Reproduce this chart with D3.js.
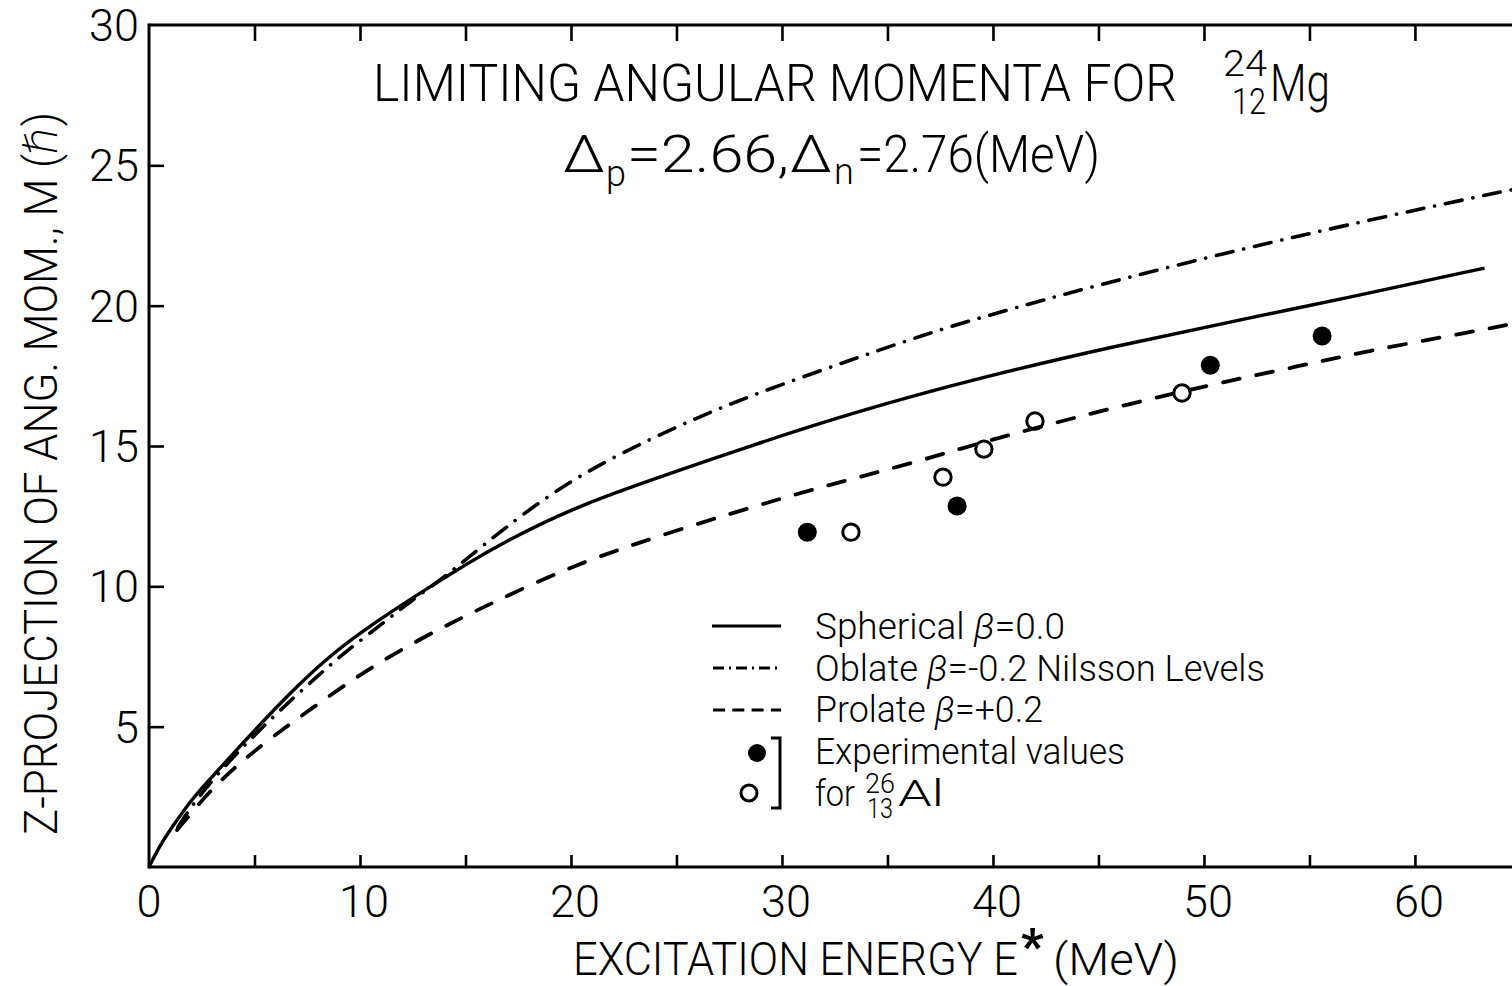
<!DOCTYPE html>
<html>
<head>
<meta charset="utf-8">
<script src="https://cdn.jsdelivr.net/npm/d3@7"></script>
<style>
  html, body { margin: 0; padding: 0; background: #fff; }
  svg text { font-family: Roboto, "DejaVu Sans", sans-serif; font-weight: 300; fill: #000; }
</style>
</head>
<body>
<svg id="chart" width="1512" height="986"></svg>
<script>
// ---------- data ----------
const xTickLabels = [0, 10, 20, 30, 40, 50, 60];
const yTickLabels = [5, 10, 15, 20, 25, 30];
const minorTicks = [5, 10, 15, 20, 25, 30, 35, 40, 45, 50, 55, 60];

const sphericalE = [0, 0.5, 1.09, 2.09, 3.2, 4.45, 5.59, 7.16, 8.72, 10.33, 11.9, 13.46, 15.07, 16.63, 20.2, 25, 28.48, 33.41, 39.29, 45.78, 52.09, 56.59, 63.3];
const sphericalM = [0, 0.75, 1.42, 2.49, 3.38, 4.42, 5.34, 6.55, 7.62, 8.51, 9.3, 10.05, 10.8, 11.5, 12.85, 14.1, 15.0, 16.2, 17.42, 18.56, 19.55, 20.25, 21.34];

const oblateE = [1.37, 1.94, 3.2, 4.63, 6.07, 7.77, 9.29, 11.1, 12.37, 13.8, 15.07, 16.63, 20.2, 25, 28.48, 33.4, 37.5, 41.9, 45.07, 50.85, 56.6, 63.7, 64.6];
const oblateM = [1.42, 2.1, 3.28, 4.42, 5.49, 6.66, 7.66, 8.69, 9.45, 10.22, 10.98, 11.95, 13.95, 15.7, 16.8, 18.1, 19.17, 20.1, 20.75, 21.85, 22.85, 24.0, 24.13];

const prolateE = [1.33, 2.9, 4.5, 6.5, 8, 9.5, 11, 12.8, 14.6, 16.3, 20.2, 25, 30.14, 33.1, 36.2, 38.44, 40.8, 45.07, 50.4, 54.55, 57.5, 62.9, 64.6];
const prolateM = [1.32, 2.74, 3.85, 5.0, 5.8, 6.6, 7.32, 8.1, 8.8, 9.42, 10.8, 12.0, 13.18, 13.78, 14.4, 14.9, 15.4, 16.25, 17.2, 17.85, 18.35, 19.1, 19.35];

const filledE = [31.2, 38.3, 50.3, 55.6];
const filledM = [11.93, 12.86, 17.88, 18.92];
const openE = [33.27, 37.63, 39.57, 41.99, 48.96];
const openM = [11.93, 13.89, 14.89, 15.89, 16.89];

// ---------- layout ----------
const svg = d3.select("#chart");
const x = d3.scaleLinear().domain([0, 64.6]).range([149, 1512]);
const y = d3.scaleLinear().domain([0, 30]).range([867, 25]);

const zip = (a, b) => a.map((v, i) => [v, b[i]]);
const line = d3.line().x(d => x(d[0])).y(d => y(d[1])).curve(d3.curveBasis);

// ---------- axes (inward ticks) ----------
const axisStyle = g => {
  g.selectAll(".domain").remove();
  g.selectAll(".tick line").attr("stroke", "#000").attr("stroke-width", 2.6);
  g.selectAll(".tick text").remove();
};
svg.append("g").attr("transform", `translate(0,${y(0)})`)
  .call(d3.axisBottom(x).tickValues(minorTicks).tickSize(-12)).call(axisStyle);
svg.append("g").attr("transform", `translate(0,${y(30)})`)
  .call(d3.axisTop(x).tickValues(minorTicks).tickSize(-16)).call(axisStyle);
svg.append("g").attr("transform", `translate(${x(0)},0)`)
  .call(d3.axisLeft(y).tickValues([5, 10, 15, 20, 25]).tickSize(-15)).call(axisStyle);

// frame lines
svg.append("line").attr("x1", x(0)).attr("x2", 1512).attr("y1", y(0)).attr("y2", y(0)).attr("stroke", "#000").attr("stroke-width", 3);
svg.append("line").attr("x1", x(0)).attr("x2", 1512).attr("y1", y(30)).attr("y2", y(30)).attr("stroke", "#000").attr("stroke-width", 3);
svg.append("line").attr("x1", x(0)).attr("x2", x(0)).attr("y1", y(30) - 1.5).attr("y2", y(0) + 1.5).attr("stroke", "#000").attr("stroke-width", 3);

// tick labels
svg.append("g").selectAll("text").data(xTickLabels).join("text")
  .attr("x", d => x(d) + (d === 0 ? 0 : 4)).attr("y", 917)
  .attr("text-anchor", "middle").attr("font-size", 45)
  .text(d => d);
svg.append("g").selectAll("text").data(yTickLabels).join("text")
  .attr("x", 139).attr("y", d => y(d) + 16)
  .attr("text-anchor", "end").attr("font-size", 45)
  .text(d => d);

// axis titles
svg.append("text").attr("x", 573).attr("y", 975).attr("font-size", 47)
  .attr("textLength", 445).attr("lengthAdjust", "spacingAndGlyphs")
  .text("EXCITATION ENERGY E");
svg.append("text").attr("x", 1021).attr("y", 964).attr("font-size", 50)
  .style("font-weight", 700).text("*");
svg.append("text").attr("x", 1053).attr("y", 975).attr("font-size", 45)
  .attr("textLength", 126).attr("lengthAdjust", "spacingAndGlyphs")
  .text("(MeV)");

svg.append("text").attr("transform", "translate(57,835) rotate(-90)").attr("font-size", 46)
  .attr("textLength", 723).attr("lengthAdjust", "spacingAndGlyphs")
  .text("Z-PROJECTION OF ANG. MOM., M (\u210F)");

// chart title
svg.append("text").attr("x", 373).attr("y", 101).attr("font-size", 51)
  .attr("textLength", 804).attr("lengthAdjust", "spacingAndGlyphs")
  .text("LIMITING ANGULAR MOMENTA FOR");
svg.append("text").attr("x", 1223).attr("y", 76).attr("font-size", 36)
  .attr("textLength", 44).attr("lengthAdjust", "spacingAndGlyphs").text("24");
svg.append("text").attr("x", 1232).attr("y", 114).attr("font-size", 36)
  .attr("textLength", 34).attr("lengthAdjust", "spacingAndGlyphs").text("12");
svg.append("text").attr("x", 1270).attr("y", 101).attr("font-size", 51)
  .attr("textLength", 60).attr("lengthAdjust", "spacingAndGlyphs").text("Mg");

svg.append("text").attr("x", 563).attr("y", 172).attr("font-size", 52)
  .attr("textLength", 42).attr("lengthAdjust", "spacingAndGlyphs").text("\u0394");
svg.append("text").attr("x", 606).attr("y", 186).attr("font-size", 36).text("p");
svg.append("text").attr("x", 627).attr("y", 172).attr("font-size", 52)
  .attr("textLength", 162).attr("lengthAdjust", "spacingAndGlyphs").text("=2.66,");
svg.append("text").attr("x", 790).attr("y", 172).attr("font-size", 52)
  .attr("textLength", 42).attr("lengthAdjust", "spacingAndGlyphs").text("\u0394");
svg.append("text").attr("x", 834).attr("y", 184).attr("font-size", 36).text("n");
svg.append("text").attr("x", 857).attr("y", 172).attr("font-size", 52)
  .attr("textLength", 243).attr("lengthAdjust", "spacingAndGlyphs").text("=2.76(MeV)");

// ---------- curves ----------
const plot = svg.append("g");
plot.append("path").datum(zip(sphericalE, sphericalM)).attr("d", line)
  .attr("fill", "none").attr("stroke", "#000").attr("stroke-width", 3.4);
plot.append("path").datum(zip(oblateE, oblateM)).attr("d", line)
  .attr("fill", "none").attr("stroke", "#000").attr("stroke-width", 3.6)
  .attr("stroke-linecap", "round").attr("stroke-dasharray", "17,11,0.1,11");
plot.append("path").datum(zip(prolateE, prolateM)).attr("d", line)
  .attr("fill", "none").attr("stroke", "#000").attr("stroke-width", 3.8)
  .attr("stroke-linecap", "round").attr("stroke-dasharray", "17,17");

// ---------- experimental points ----------
plot.append("g").selectAll("circle").data(zip(filledE, filledM)).join("circle")
  .attr("cx", d => x(d[0])).attr("cy", d => y(d[1])).attr("r", 9.5).attr("fill", "#000");
plot.append("g").selectAll("circle").data(zip(openE, openM)).join("circle")
  .attr("cx", d => x(d[0])).attr("cy", d => y(d[1])).attr("r", 8.2)
  .attr("fill", "none").attr("stroke", "#000").attr("stroke-width", 3);

// ---------- legend ----------
const lg = svg.append("g");
lg.append("line").attr("x1", 712).attr("x2", 781).attr("y1", 626).attr("y2", 626)
  .attr("stroke", "#000").attr("stroke-width", 3);
lg.append("line").attr("x1", 713).attr("x2", 781).attr("y1", 668).attr("y2", 668)
  .attr("stroke", "#000").attr("stroke-width", 3).attr("stroke-dasharray", "11,5,2,5");
lg.append("line").attr("x1", 713).attr("x2", 781).attr("y1", 710).attr("y2", 710)
  .attr("stroke", "#000").attr("stroke-width", 3).attr("stroke-dasharray", "12,7.3");
lg.append("circle").attr("cx", 757).attr("cy", 753).attr("r", 9).attr("fill", "#000");
lg.append("circle").attr("cx", 749).attr("cy", 793).attr("r", 8).attr("fill", "none")
  .attr("stroke", "#000").attr("stroke-width", 3);
lg.append("path").attr("d", "M771,738 H780 V808 H771").attr("fill", "none")
  .attr("stroke", "#000").attr("stroke-width", 3);

const legText = (xx, yy, w, parts) => {
  const t = lg.append("text").attr("x", xx).attr("y", yy).attr("font-size", 37)
    .attr("textLength", w).attr("lengthAdjust", "spacingAndGlyphs");
  parts.forEach(p => {
    const s = t.append("tspan").text(p[0]);
    if (p[1]) s.style("font-style", "italic");
  });
};
legText(815, 639, 250, [["Spherical "], ["\u03B2", true], ["=0.0"]]);
legText(815, 681, 450, [["Oblate "], ["\u03B2", true], ["=-0.2  Nilsson Levels"]]);
legText(815, 722, 228, [["Prolate "], ["\u03B2", true], ["=+0.2"]]);
legText(815, 764, 310, [["Experimental  values"]]);
legText(815, 806, 40, [["for"]]);
lg.append("text").attr("x", 865).attr("y", 793).attr("font-size", 28)
  .attr("textLength", 30).attr("lengthAdjust", "spacingAndGlyphs").text("26");
lg.append("text").attr("x", 867).attr("y", 818).attr("font-size", 28)
  .attr("textLength", 26).attr("lengthAdjust", "spacingAndGlyphs").text("13");
lg.append("text").attr("x", 898).attr("y", 806).attr("font-size", 37)
  .attr("textLength", 46).attr("lengthAdjust", "spacingAndGlyphs").text("Al");
</script>
</body>
</html>
